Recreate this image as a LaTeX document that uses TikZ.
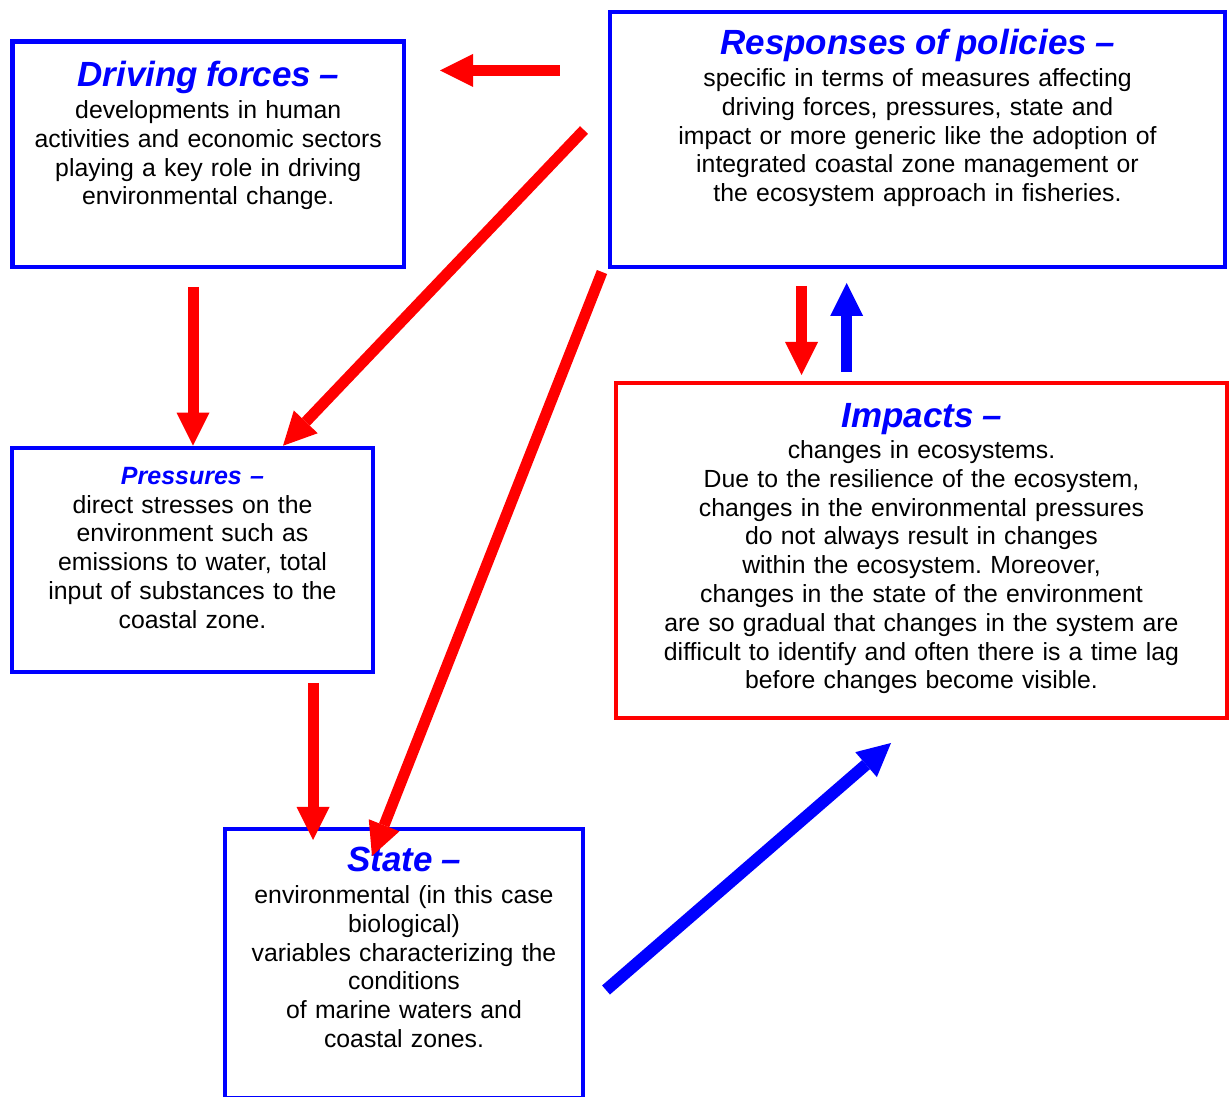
\documentclass[tikz,border=0pt]{standalone}
\usepackage{fontspec}
\setmainfont{Liberation Sans}
\frenchspacing
\usetikzlibrary{arrows.meta}
\definecolor{dpsirblue}{RGB}{0,0,255}
\definecolor{dpsirred}{RGB}{255,0,0}
\tikzset{
  dpsirbox/.style={draw=#1, line width=4.5pt, rectangle, inner sep=0pt},
  dpsirtext/.style={anchor=base, align=center, inner sep=0pt, text=black,
    font=\fontsize{24.8}{28.8}\selectfont},
  redarrow/.style={draw=dpsirred, line width=11pt,
    -{Triangle[length=33pt,width=33pt,line width=0pt]}},
  bluearrow/.style={draw=dpsirblue, line width=11pt,
    -{Triangle[length=33pt,width=33pt,line width=0pt]}},
}
\newcommand{\dpsirtitle}[2][35]{{\fontsize{#1}{#1}\selectfont\bfseries\itshape\color{dpsirblue}#2}}
\begin{document}
\begin{tikzpicture}[x=1pt,y=1pt]
\useasboundingbox (0.000000, 0.000000) rectangle (1232.000000, 1096.000000);
\fill[color=white] (0.000000, 0.000000) rectangle (1232.000000, 1096.000000);
% Drawing boxes
% Box 1: driving forces
\node[dpsirbox=dpsirblue, minimum width=391.5pt, minimum height=225.5pt] (drive) at (208.250000, 941.750000) {};
\node[dpsirtext, text width=391pt] (drive-t) at ([yshift=-47.5pt]drive.north)
  {\dpsirtitle{Driving forces --}\\[3pt]
   developments in human\\
   activities and economic sectors\\
   playing a key role in driving\\
   environmental change.};
% Box 2: responses of policies
\node[dpsirbox=dpsirblue, minimum width=615pt, minimum height=255pt] (resp) at (917.500000, 956.500000) {};
\node[dpsirtext, text width=614pt] (resp-t) at ([yshift=-45pt]resp.north)
  {\dpsirtitle{Responses of policies --}\\[3pt]
   specific in terms of measures affecting\\
   driving forces, pressures, state and\\
   impact or more generic like the adoption of\\
   integrated coastal zone management or\\
   the ecosystem approach in fisheries.};
% Box 3: pressures
\node[dpsirbox=dpsirblue, minimum width=361pt, minimum height=224pt] (press) at (192.500000, 536.000000) {};
\node[dpsirtext, text width=360pt] (press-t) at ([yshift=-38.5pt]press.north)
  {\dpsirtitle[25]{Pressures --}\\
   direct stresses on the\\
   environment such as\\
   emissions to water, total\\
   input of substances to the\\
   coastal zone.};
% Box 4: impacts
\node[dpsirbox=dpsirred, minimum width=611pt, minimum height=335pt] (impact) at (921.500000, 545.500000) {};
\node[dpsirtext, text width=610pt] (impact-t) at ([yshift=-47pt]impact.north)
  {\dpsirtitle{Impacts --}\\[2pt]
   changes in ecosystems.\\
   Due to the resilience of the ecosystem,\\
   changes in the environmental pressures\\
   do not always result in changes\\
   within the ecosystem. Moreover,\\
   changes in the state of the environment\\
   are so gradual that changes in the system are\\
   difficult to identify and often there is a time lag\\
   before changes become visible.};
% Box 5: state
\node[dpsirbox=dpsirblue, minimum width=358pt, minimum height=269.5pt] (state) at (404.000000, 132.250000) {};
\node[dpsirtext, text width=357pt] (state-t) at ([yshift=-45pt]state.north)
  {\dpsirtitle{State --}\\[3pt]
   environmental (in this case\\
   biological)\\
   variables characterizing the\\
   conditions\\
   of marine waters and\\
   coastal zones.};
% Done with boxes; drawing arrows
\coordinate (rd-tail) at (559.500000, 1025.500000);
\coordinate (rd-tip) at (440.000000, 1025.500000);
\coordinate (dp-tail) at (193.000000, 809.000000);
\coordinate (rp-tail) at (584.000000, 966.000000);
\coordinate (rp-tip) at ([xshift=90.5pt]press.north);
\coordinate (ps-tail) at (313.000000, 413.000000);
\coordinate (ps-tip) at ([xshift=-91pt,yshift=-13.25pt]state.north);
\coordinate (rs-tail) at (602.000000, 824.000000);
\coordinate (rs-tip) at ([xshift=-32pt,yshift=-29.25pt]state.north);
\coordinate (ri-tail) at (801.500000, 810.000000);
\coordinate (ri-tip) at (801.500000, 721.000000);
\coordinate (ir-tail) at (846.700000, 724.000000);
\coordinate (ir-tip) at (846.700000, 813.000000);
\coordinate (si-tail) at (606.000000, 106.000000);
\coordinate (si-tip) at (891.000000, 353.000000);
% Arrow 1: responses to driving forces
\draw[redarrow] (rd-tail) -- (rd-tip);
% Arrow 2: driving forces to pressures
\draw[redarrow] (dp-tail) -- (dp-tail |- press.north);
% Arrow 3: responses to pressures
\draw[redarrow] (rp-tail) -- (rp-tip);
% Arrow 4: pressures to state
\draw[redarrow] (ps-tail) -- (ps-tip);
% Arrow 5: responses to state
\draw[redarrow] (rs-tail) -- (rs-tip);
% Arrow 6: responses to impacts
\draw[redarrow] (ri-tail) -- (ri-tip);
% Arrow 7: impacts to responses
\draw[bluearrow] (ir-tail) -- (ir-tip);
% Arrow 8: state to impacts
\draw[bluearrow, line width=12pt] (si-tail) -- (si-tip);
% Done with arrows
\end{tikzpicture}
\end{document}
